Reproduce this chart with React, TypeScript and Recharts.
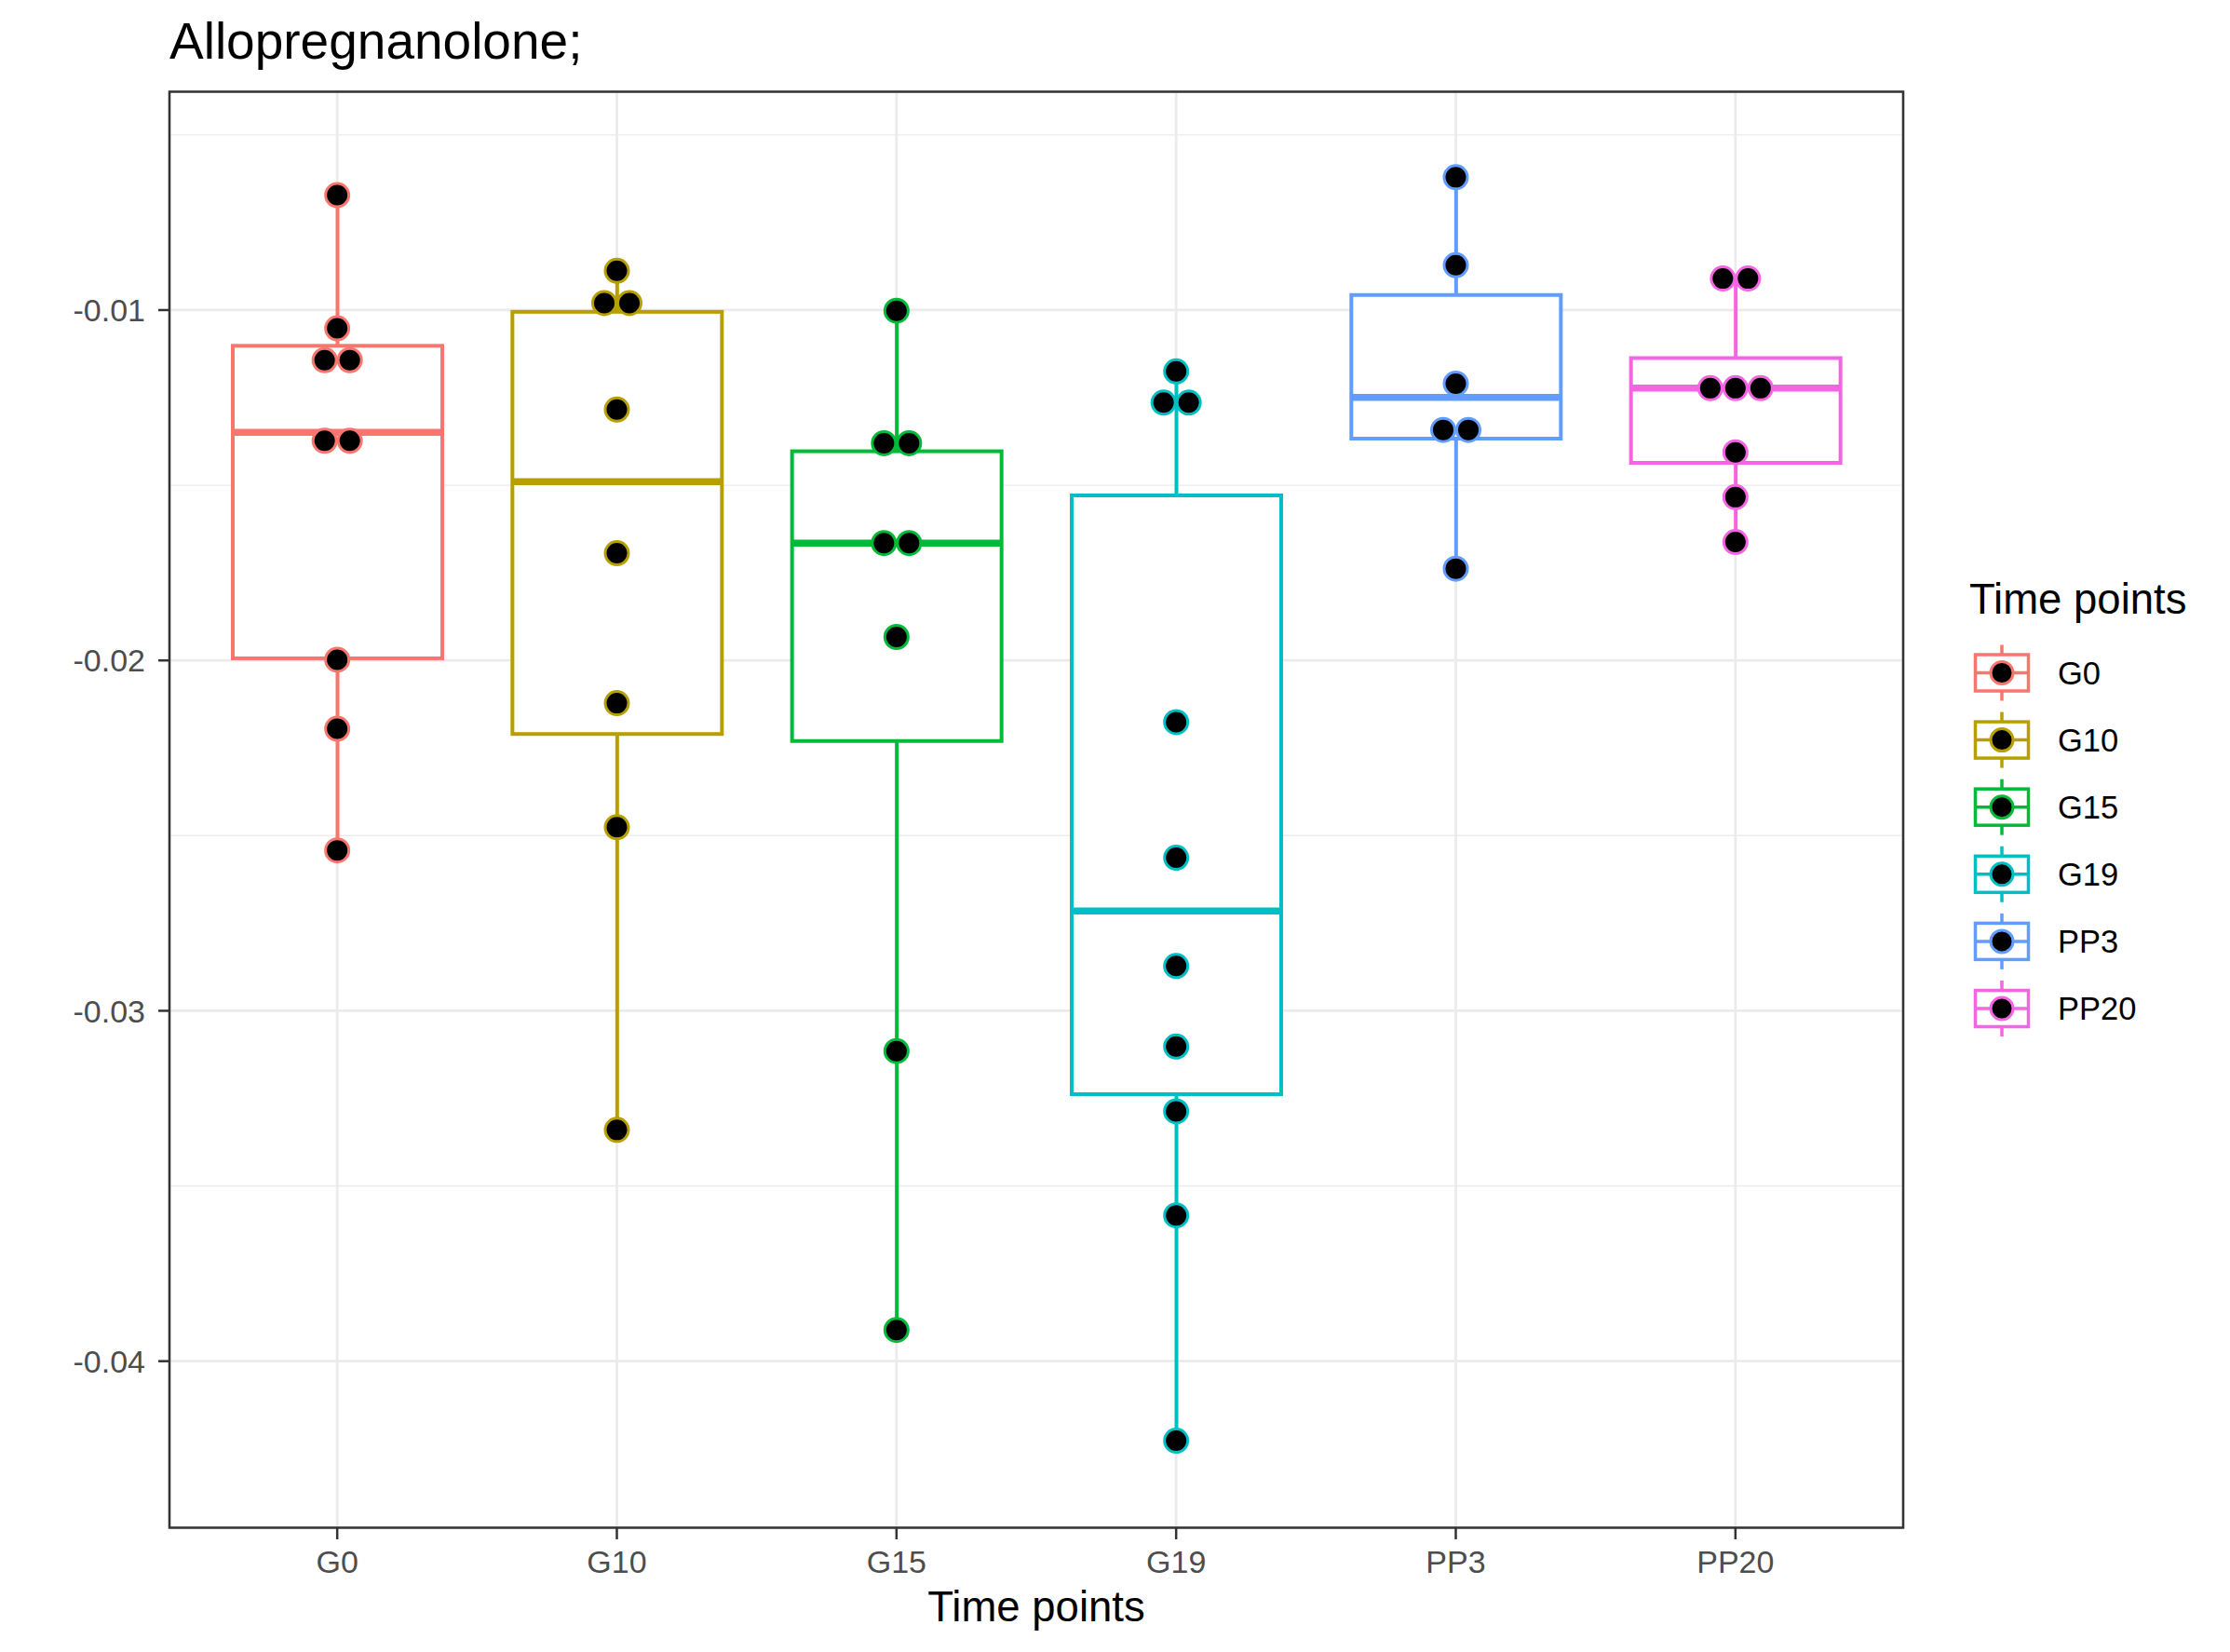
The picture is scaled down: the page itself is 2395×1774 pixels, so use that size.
import React from 'react';
import { ComposedChart, Bar, Scatter, XAxis, YAxis, CartesianGrid } from 'recharts';

// groups and their ggplot hue colours
const categories = ['G0', 'G10', 'G15', 'G19', 'PP3', 'PP20'];
const colors = ['#F8766D', '#B79F00', '#00BA38', '#00BFC4', '#619CFF', '#F564E3'];

// boxplot stats
const whiskerLow = [-0.02542, -0.0334, -0.03911, -0.04227, -0.01738, -0.01662];
const boxQ1 = [-0.01994, -0.0221, -0.0223, -0.03238, -0.01367, -0.01436];
const boxMedian = [-0.01349, -0.0149, -0.01665, -0.02715, -0.01249, -0.01223];
const boxQ3 = [-0.01102, -0.01005, -0.01403, -0.01529, -0.00957, -0.01137];
const whiskerHigh = [-0.00672, -0.00888, -0.01002, -0.01175, -0.00621, -0.0091];

// dotplot values (binned positions)
const pointsG0 = [-0.00672, -0.01052, -0.01143, -0.01143, -0.01373, -0.01373, -0.01998, -0.02195, -0.02542];
const pointsG10 = [-0.00888, -0.0098, -0.0098, -0.01284, -0.01694, -0.02122, -0.02476, -0.0334];
const pointsG15 = [-0.01002, -0.0138, -0.0138, -0.01665, -0.01665, -0.01933, -0.03115, -0.03911];
const pointsG19 = [-0.01175, -0.01264, -0.01264, -0.02176, -0.02563, -0.02872, -0.03102, -0.03287, -0.03584, -0.04227];
const pointsPP3 = [-0.00621, -0.00872, -0.0121, -0.01342, -0.01342, -0.01738];
const pointsPP20 = [-0.0091, -0.0091, -0.01223, -0.01223, -0.01223, -0.01406, -0.01534, -0.01662];
const pointsByGroup = [pointsG0, pointsG10, pointsG15, pointsG19, pointsPP3, pointsPP20];

const yTicks = [-0.04, -0.03, -0.02, -0.01];
const yMinor = [-0.035, -0.025, -0.015, -0.005];
const yDomain = [-0.044766, -0.003755];

const FONT = '"Liberation Sans", Arial, Helvetica, sans-serif';
const DOT_D = 27; // dot diameter in px, used for side-by-side stacking

const boxData = categories.map((cat, i) => ({
  cat,
  low: whiskerLow[i],
  q1: boxQ1[i],
  med: boxMedian[i],
  q3: boxQ3[i],
  high: whiskerHigh[i],
}));

// equal values in a group sit next to each other, centred (stackdir = "center")
const dotData = categories.flatMap((cat, i) => {
  const vals = pointsByGroup[i];
  const counts = new Map<number, number>();
  vals.forEach(v => counts.set(v, (counts.get(v) || 0) + 1));
  const seen = new Map<number, number>();
  return vals.map(v => {
    const n = counts.get(v) as number;
    const k = seen.get(v) || 0;
    seen.set(v, k + 1);
    return { cat, value: v, off: k - (n - 1) / 2 };
  });
});

const colorOf = (cat: string) => colors[categories.indexOf(cat)];

const BoxShape = (props: any) => {
  const { x, y, width, height, payload } = props;
  if (!payload || x == null || y == null) return null;
  const top = Math.min(y, y + height);
  const bottom = Math.max(y, y + height);
  const span = payload.high - payload.low;
  const yOf = (v: number) => top + ((payload.high - v) / span) * (bottom - top);
  const color = colorOf(payload.cat);
  const cx = x + width / 2;
  return (
    <g>
      <line x1={cx} x2={cx} y1={yOf(payload.high)} y2={yOf(payload.q3)} stroke={color} strokeWidth={4} />
      <line x1={cx} x2={cx} y1={yOf(payload.q1)} y2={yOf(payload.low)} stroke={color} strokeWidth={4} />
      <rect
        x={x}
        y={yOf(payload.q3)}
        width={width}
        height={yOf(payload.q1) - yOf(payload.q3)}
        fill="#ffffff"
        stroke={color}
        strokeWidth={4}
      />
      <line x1={x} x2={x + width} y1={yOf(payload.med)} y2={yOf(payload.med)} stroke={color} strokeWidth={7.5} />
    </g>
  );
};

const DotShape = (props: any) => {
  const { cx, cy, payload } = props;
  if (cx == null || cy == null || !payload) return null;
  return (
    <circle
      cx={cx + payload.off * DOT_D}
      cy={cy}
      r={12.5}
      fill="#000000"
      stroke={colorOf(payload.cat)}
      strokeWidth={3}
    />
  );
};

const LegendKeys = () => (
  <g>
    <text x={2115} y={659} fontSize={45.5} fontFamily={FONT} fill="#000">Time points</text>
    {categories.map((cat, i) => {
      const cx = 2150;
      const cy = 722.5 + 72.1 * i;
      const c = colors[i];
      return (
        <g key={cat}>
          <line x1={cx} x2={cx} y1={cy - 30} y2={cy + 30} stroke={c} strokeWidth={3.5} />
          <rect x={cx - 28.5} y={cy - 19.5} width={57} height={39} fill="#fff" stroke={c} strokeWidth={3.5} />
          <line x1={cx - 28.5} x2={cx + 28.5} y1={cy} y2={cy} stroke={c} strokeWidth={3.5} />
          <circle cx={cx} cy={cy} r={12} fill="#000" stroke={c} strokeWidth={3} />
          <text x={2210} y={cy} dy="0.36em" fontSize={34.5} fontFamily={FONT} fill="#000">{cat}</text>
        </g>
      );
    })}
  </g>
);

export default function App() {
  return (
    <div style={{ position: 'absolute', left: 0, top: 0, width: 2395, height: 1774, background: '#fff' }}>
      <ComposedChart
        width={2395}
        height={1774}
        data={boxData}
        margin={{ top: 98, right: 351, bottom: 0, left: 0 }}
        barGap={0}
      >
        <CartesianGrid horizontalValues={yMinor} vertical={false} stroke="#EBEBEB" strokeWidth={1.4} />
        <CartesianGrid stroke="#EBEBEB" strokeWidth={2.8} />
        <XAxis
          dataKey="cat"
          type="category"
          allowDuplicatedCategory={false}
          interval={0}
          height={133}
          padding={{ left: 30, right: 30 }}
          axisLine={false}
          tickSize={12}
          tickMargin={12}
          tickLine={{ stroke: '#333333', strokeWidth: 2.5 }}
          tick={{ fontSize: 34, fill: '#4D4D4D', fontFamily: FONT }}
        />
        <YAxis
          type="number"
          domain={yDomain}
          ticks={yTicks}
          allowDataOverflow
          width={182}
          axisLine={false}
          tickSize={12}
          tickMargin={14}
          tickLine={{ stroke: '#333333', strokeWidth: 2.5 }}
          tick={{ fontSize: 34, fill: '#4D4D4D', fontFamily: FONT }}
        />
        <Bar
          dataKey={(d: any) => [d.low, d.high]}
          barSize={225}
          shape={BoxShape}
          isAnimationActive={false}
        />
        <Scatter data={dotData} dataKey="value" shape={DotShape} isAnimationActive={false} />
      </ComposedChart>
      <svg
        width={2395}
        height={1774}
        style={{ position: 'absolute', left: 0, top: 0, pointerEvents: 'none' }}
      >
        <text x={182} y={63} fontSize={55} fontFamily={FONT} fill="#000">Allopregnanolone;</text>
        <text x={1113} y={1741} textAnchor="middle" fontSize={45.5} fontFamily={FONT} fill="#000">Time points</text>
        <rect x={182} y={98.5} width={1862} height={1542} fill="none" stroke="#333333" strokeWidth={2.5} />
        <LegendKeys />
      </svg>
    </div>
  );
}
